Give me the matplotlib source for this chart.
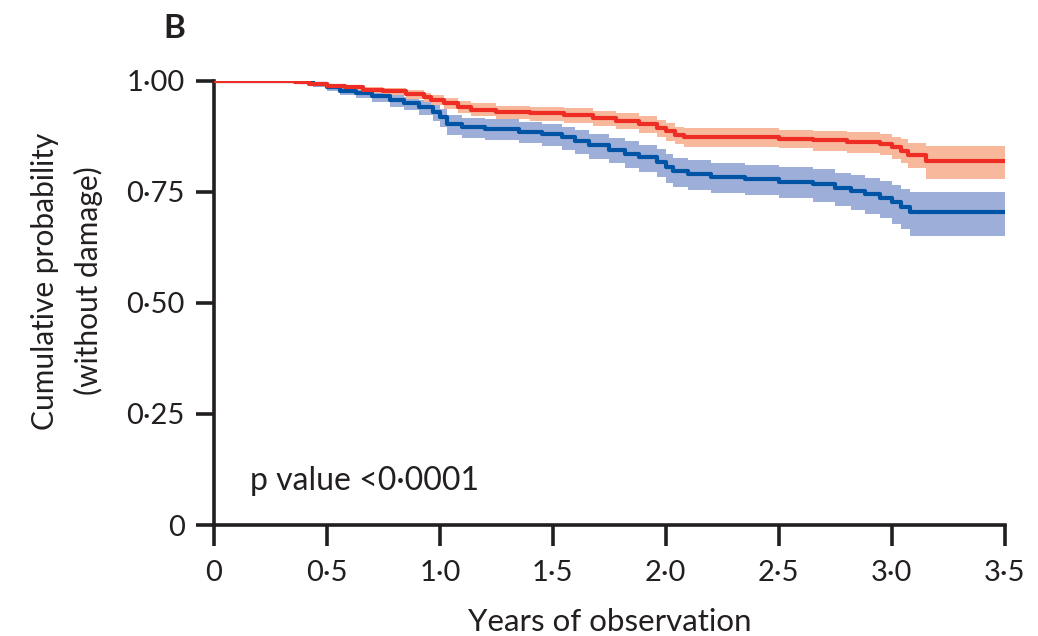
import matplotlib
matplotlib.use("Agg")
import matplotlib.pyplot as plt

# ---- data ----
red_t = [0, 0.36, 0.42, 0.50, 0.58, 0.66, 0.75, 0.85, 0.93, 0.96, 1.02, 1.08, 1.14, 1.25, 1.40, 1.55,
         1.68, 1.78, 1.88, 1.96, 2.00, 2.04, 2.08, 2.50, 2.65, 2.80, 2.95, 3.00, 3.04, 3.07, 3.15, 3.50]
red_s = [1.0, 0.997, 0.993, 0.989, 0.985, 0.980, 0.976, 0.970, 0.963, 0.957, 0.950, 0.942, 0.935, 0.930,
         0.927, 0.922, 0.917, 0.910, 0.902, 0.894, 0.886, 0.878, 0.873, 0.870, 0.866, 0.862, 0.858, 0.850,
         0.843, 0.834, 0.820, 0.820]
red_hi = [1.0, 0.999, 0.996, 0.993, 0.990, 0.986, 0.983, 0.979, 0.973, 0.968, 0.962, 0.955, 0.949, 0.944,
          0.942, 0.938, 0.933, 0.927, 0.920, 0.912, 0.905, 0.897, 0.893, 0.890, 0.887, 0.884, 0.880, 0.874,
          0.868, 0.861, 0.854, 0.854]
red_lo = [1.0, 0.994, 0.989, 0.984, 0.979, 0.973, 0.968, 0.960, 0.952, 0.945, 0.937, 0.928, 0.920, 0.914,
          0.910, 0.905, 0.899, 0.891, 0.882, 0.874, 0.865, 0.857, 0.851, 0.848, 0.843, 0.838, 0.833, 0.823,
          0.814, 0.803, 0.779, 0.779]

blue_t = [0, 0.38, 0.44, 0.50, 0.56, 0.63, 0.70, 0.78, 0.84, 0.91, 0.97, 1.00, 1.03, 1.10, 1.20, 1.35,
          1.45, 1.54, 1.60, 1.66, 1.75, 1.82, 1.88, 1.96, 2.00, 2.03, 2.10, 2.20, 2.35, 2.50, 2.65, 2.75,
          2.82, 2.88, 2.95, 3.00, 3.04, 3.08, 3.50]
blue_s = [1.0, 0.997, 0.992, 0.985, 0.978, 0.972, 0.965, 0.957, 0.950, 0.940, 0.930, 0.918, 0.902, 0.896,
          0.892, 0.885, 0.880, 0.873, 0.864, 0.855, 0.845, 0.836, 0.828, 0.818, 0.805, 0.797, 0.790, 0.784,
          0.779, 0.773, 0.767, 0.758, 0.752, 0.744, 0.736, 0.726, 0.716, 0.705, 0.705]
blue_hi = [1.0, 0.999, 0.996, 0.991, 0.986, 0.982, 0.976, 0.970, 0.964, 0.956, 0.947, 0.936, 0.922, 0.916,
           0.913, 0.907, 0.903, 0.897, 0.889, 0.881, 0.872, 0.864, 0.856, 0.847, 0.835, 0.827, 0.821, 0.815,
           0.811, 0.806, 0.801, 0.793, 0.788, 0.781, 0.774, 0.766, 0.757, 0.750, 0.750]
blue_lo = [1.0, 0.994, 0.987, 0.978, 0.969, 0.961, 0.952, 0.942, 0.934, 0.922, 0.910, 0.897, 0.879, 0.872,
           0.867, 0.859, 0.853, 0.845, 0.835, 0.825, 0.814, 0.804, 0.795, 0.784, 0.770, 0.762, 0.754, 0.748,
           0.742, 0.735, 0.728, 0.717, 0.710, 0.700, 0.690, 0.678, 0.666, 0.651, 0.651]

x_ticks = [0, 0.5, 1.0, 1.5, 2.0, 2.5, 3.0, 3.5]
x_labels = ["0", "0·5", "1·0", "1·5", "2·0", "2·5", "3·0", "3·5"]
y_ticks = [0, 0.25, 0.50, 0.75, 1.00]
y_labels = ["0", "0·25", "0·50", "0·75", "1·00"]

# ---- style ----
plt.rcParams['font.family'] = ['Lato', 'DejaVu Sans']
txt = "#231F20"
red_line, red_band = "#EE2E24", "#F8B89B"
blue_line, blue_band = "#0054A6", "#9DAFD9"

fig = plt.figure(figsize=(10.38, 6.36), dpi=100)
ax = fig.add_axes([0.206, 0.1745, 0.762, 0.6985])

ax.fill_between(blue_t, blue_lo, blue_hi, step="post", color=blue_band, lw=0, zorder=1)
ax.fill_between(red_t, red_lo, red_hi, step="post", color=red_band, lw=0, zorder=2)
ax.step(blue_t, blue_s, where="post", color=blue_line, lw=3.0, zorder=3)
ax.step(red_t, red_s, where="post", color=red_line, lw=3.0, zorder=4)

ax.set_xlim(0, 3.5)
ax.set_ylim(0, 1.0)
ax.set_xticks(x_ticks)
ax.set_xticklabels(x_labels)
ax.set_yticks(y_ticks)
ax.set_yticklabels(y_labels)

for s in ["top", "right"]:
    ax.spines[s].set_visible(False)
for s in ["left", "bottom"]:
    ax.spines[s].set_linewidth(2.6)
    ax.spines[s].set_color(txt)
    ax.spines[s].set_capstyle("projecting")
ax.tick_params(axis="both", direction="out", width=2.6, color=txt,
               labelsize=21, labelcolor=txt)
ax.tick_params(axis="x", length=15, pad=10)
ax.tick_params(axis="y", length=13, pad=8)

fig.text(0.587, 0.022, "Years of observation", fontsize=22.5, color=txt, ha="center", va="center")
fig.text(0.0645, 0.558, "Cumulative probability\n(without damage)", fontsize=21.5, color=txt,
         ha="center", va="center", rotation=90, linespacing=1.6)

ax.text(0.16, 0.10, "p value <0·0001", fontsize=23, color=txt, ha="left", va="center")
fig.text(0.157, 0.955, "B", fontsize=24, fontweight="bold", color=txt, ha="left", va="center")

fig.savefig("out.png", dpi=100)
